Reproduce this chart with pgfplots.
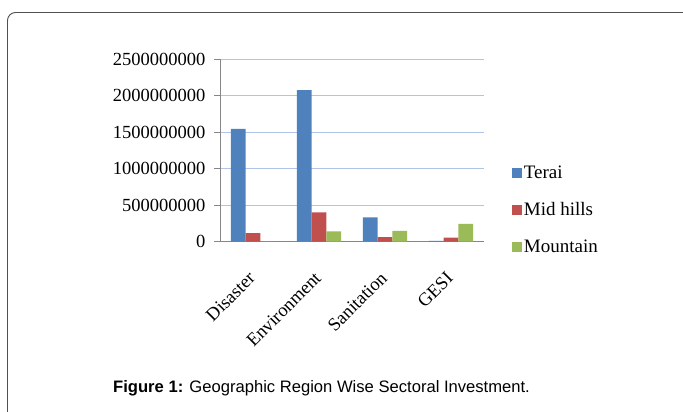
\documentclass[border=0pt]{standalone}
\usepackage{pgfplots}
\pgfplotsset{compat=1.18}
\usepackage{fontspec}
\setmainfont{Liberation Serif}
\newfontfamily\capfont{Liberation Sans}
\definecolor{terai}{HTML}{4F81BD}
\definecolor{midhills}{HTML}{C0504D}
\definecolor{mountain}{HTML}{9BBB59}
\definecolor{gridblue}{RGB}{176,196,232}
\definecolor{axgray}{RGB}{134,134,134}
\definecolor{framegray}{RGB}{80,80,80}
\begin{document}
\begin{tikzpicture}[x=1pt,y=1pt]
\useasboundingbox (0,0) rectangle (683,412);
\draw[framegray, line width=0.9pt, rounded corners=8pt] (7.5,399.5) rectangle (700,-20);
\begin{axis}[
  at={(220pt,170.3pt)}, anchor=south west,
  scale only axis, width=264pt, height=182.4pt,
  xmin=-0.5, xmax=3.5, ymin=0, ymax=2500000000,
  ybar=0pt, bar width=14.7pt,
  axis x line*=bottom, axis y line*=left,
  axis line style={axgray, line width=1pt, -},
  ytick={0,500000000,1000000000,1500000000,2000000000,2500000000},
  yticklabels={0,500000000,1000000000,1500000000,2000000000,2500000000},
  scaled y ticks=false,
  ymajorgrids, major grid style={gridblue, line width=1.4pt},
  tick align=outside,
  major tick length=6pt,
  ytick style={axgray, line width=1pt},
  yticklabel style={font=\fontsize{18.5}{18.5}\selectfont, xshift=-5pt},
  xtick={0,1,2,3},
  xticklabels={Disaster,Environment,Sanitation,GESI},
  xtick style={draw=none},
  xticklabel style={font=\fontsize{18.5}{18.5}\selectfont, xshift=-5.6pt, yshift=-22.9pt, rotate=45, anchor=north east, inner sep=0pt},
  extra x ticks={-0.5,0.5,1.5,2.5,3.5},
  extra x tick labels={},
  extra x tick style={grid=none, major tick length=5pt, tick style={axgray, line width=1pt}},
  legend style={at={(1.105,0.174)}, anchor=west, draw=none, fill=none,
    font=\fontsize{19}{19}\selectfont, row sep=19pt, inner sep=0pt,
    /tikz/every even column/.append style={column sep=0pt}},
  legend cell align=left,
  legend image code/.code={\fill[#1] (0pt,-5pt) rectangle (10pt,5pt);},
  clip=false,
]
\addplot[fill=terai, draw=none] coordinates {(0,1545000000) (1,2079000000) (2,334000000) (3,10000000)};
\addplot[fill=midhills, draw=none] coordinates {(0,119000000) (1,403000000) (2,64000000) (3,55000000)};
\addplot[fill=mountain, draw=none] coordinates {(0,0) (1,142000000) (2,147000000) (3,243000000)};
\legend{Terai,Mid hills,Mountain}
\end{axis}
\node[anchor=base west, inner sep=0pt, font=\capfont\fontsize{16.6}{16.6}\selectfont] at (113,19.5) {\textbf{Figure 1:} Geographic Region Wise Sectoral Investment.};
\end{tikzpicture}
\end{document}
